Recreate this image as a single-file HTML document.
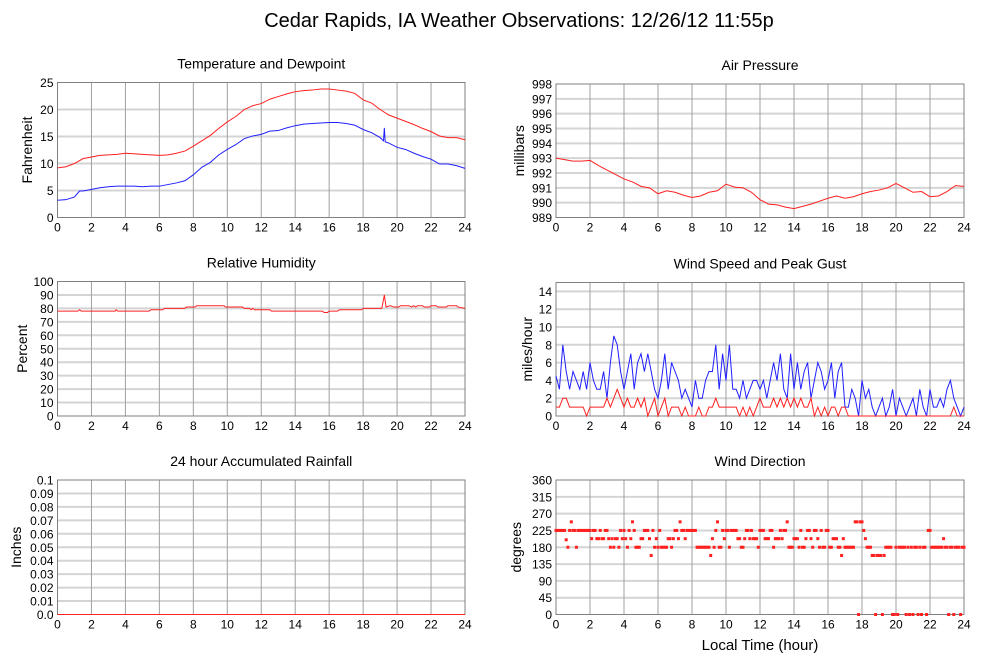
<!DOCTYPE html>
<html><head><meta charset="utf-8"><style>
body{margin:0;background:#fff;}
svg{display:block;font-family:"Liberation Sans",sans-serif;}
</style></head><body>
<svg id="c" width="999" height="659" viewBox="0 0 999 659" xmlns="http://www.w3.org/2000/svg">
<rect width="999" height="659" fill="#fff"/>
<text x="519" y="27" font-size="20" text-anchor="middle">Cedar Rapids, IA Weather Observations: 12/26/12 11:55p</text>
<text x="760" y="650" font-size="15" text-anchor="middle">Local Time (hour)</text>
</svg>
<script>
// ---- data ----
const tempValues=[9.2,9.4,10,10.9,11.2,11.5,11.6,11.7,11.9,11.8,11.7,11.6,11.5,11.6,11.9,12.3,13.2,14.2,15.2,16.5,17.7,18.7,20,20.7,21.1,21.9,22.4,22.9,23.3,23.5,23.6,23.8,23.8,23.6,23.4,23,21.8,21.2,20,19,18.4,17.8,17.2,16.5,15.9,15.1,14.8,14.8,14.4];
const dewHours=[0,0.5,1,1.3,1.5,2,2.5,3,3.5,4,4.5,5,5.5,6,6.5,7,7.5,8,8.5,9,9.5,10,10.5,11,11.5,12,12.5,13,13.5,14,14.5,15,15.5,16,16.5,17,17.5,18,18.5,19,19.2,19.25,19.3,19.5,20,20.5,21,21.5,22,22.5,23,23.5,24];
const dewValues=[3.2,3.3,3.8,4.9,4.9,5.2,5.5,5.7,5.8,5.8,5.8,5.7,5.8,5.8,6.1,6.4,6.8,7.9,9.3,10.2,11.6,12.6,13.5,14.6,15.1,15.4,16,16.1,16.6,17,17.3,17.4,17.5,17.6,17.6,17.4,17.1,16.3,15.7,14.8,14.2,16.6,14.0,13.8,13.0,12.6,11.9,11.3,10.8,9.9,9.9,9.6,9.1];
const pressValues=[993,992.9,992.8,992.8,992.85,992.5,992.2,991.9,991.6,991.4,991.1,991.0,990.6,990.8,990.7,990.5,990.35,990.45,990.7,990.8,991.25,991.05,991.0,990.7,990.2,989.9,989.85,989.7,989.6,989.75,989.9,990.1,990.3,990.45,990.3,990.4,990.6,990.75,990.85,991.0,991.3,991.0,990.7,990.75,990.4,990.45,990.75,991.15,991.1];
const rhHours=[0,1.2,1.3,1.4,3.4,3.45,3.55,5.4,5.5,6.2,6.3,7.5,7.6,8.1,8.2,9.8,9.9,10.9,11,11.3,11.4,11.5,11.6,12.5,12.6,15.6,15.7,15.9,16,16.5,16.6,17.9,18,19.1,19.25,19.35,19.6,19.8,20.1,20.2,20.7,20.85,20.95,21.1,21.2,21.5,21.6,21.9,22,22.3,22.4,22.9,23,23.5,23.6,24];
const rhValues=[78,78,79,78,78,79,78,78,79,79,80,80,81,81,82,82,81,81,80,80,79,80,79,79,78,78,77,77,78,78,79,79,80,80,90,81,82,81,81,82,82,81,82,81,82,82,81,81,82,82,81,81,82,82,81,80];
const gustValues=[4.5,3,8,5,3,5,4,3,5,3,6,4,3,3,5,2,6,9,8,5,3,5,7,3,6,7,5,7,5,3,2,4,7,3,6,5,4,2,3,2,1,4,2,2,4,5,5,8,3,7,4,8,3,3,2,4,2,3,4,4,3,4,2,4,6,4,7,3,2,7,3,6,3,5,6,2,4,6,5,3,4,6,2,5,6,1,1,3,2,0,4,2,3,1,0,1,2,0,1,3,0,2,1,0,1,2,0,3,1,0,3,1,1,2,1,3,4,2,1,0,1];
const speedValues=[1,1,2,2,1,1,1,1,1,0,1,1,1,1,1,2,1,2,3,2,1,2,1,1,2,1,2,0,1,2,0,1,2,0,1,1,1,0,1,0,0,0,1,0,0,1,1,2,1,1,1,1,1,1,0,1,0,1,0,1,2,1,1,1,2,1,2,1,2,1,2,1,2,1,1,2,0,1,0,1,0,1,1,0,1,1,0,0,0,0,0,0,0,0,0,0,0,0,0,0,0,0,0,0,0,0,0,0,0,0,0,0,0,0,0,0,0,1,0,0,0];
const dirValues=[225,225,225,225,225,225,200,180,225,248,225,225,180,225,225,225,225,225,225,225,225,203,225,225,203,203,225,203,203,225,225,203,180,203,180,203,203,180,225,203,225,203,180,225,203,248,225,180,180,180,203,203,225,225,225,203,158,225,180,203,180,225,180,180,180,180,203,203,180,203,225,225,203,248,225,225,203,225,225,225,225,225,225,180,180,180,180,180,180,180,180,158,203,180,225,248,180,180,225,203,225,225,180,225,225,225,225,203,203,180,180,203,225,225,203,225,203,203,203,180,225,225,225,203,203,203,225,225,180,203,203,203,225,203,225,225,248,180,180,180,203,203,203,180,225,180,180,203,225,225,203,180,225,225,203,180,225,180,180,225,225,180,180,203,203,203,180,180,158,203,180,180,180,180,180,180,248,248,0,248,248,225,203,180,180,180,158,158,0,158,158,158,0,158,180,180,180,180,0,0,180,0,180,180,180,180,0,180,0,180,0,180,180,0,180,0,180,180,0,225,225,180,180,180,180,180,180,180,203,180,180,0,180,180,0,180,180,180,0,180,180];
const rainValues=[0,0];
const xTicks=[0,2,4,6,8,10,12,14,16,18,20,22,24];

const svg=document.getElementById('c');
const NS='http://www.w3.org/2000/svg';
function mk(tag,attrs,parent){const e=document.createElementNS(NS,tag);for(const k in attrs)e.setAttribute(k,attrs[k]);(parent||svg).appendChild(e);return e;}

function panel(name,x0,x1,y0,y1,ymin,ymax,yTicks,title,ylabel,ylabX,fmt){
  const g=mk('g',{});
  
  
  const sx=h=>x0+(x1-x0)*h/24;
  const sy=v=>y1-(y1-y0)*(v-ymin)/(ymax-ymin);
  yTicks.forEach(t=>{
    const y=sy(t);
    if(t!==ymin&&t!==ymax){const l=mk('line',{x1:x0,x2:x1,y1:y,y2:y,stroke:'#d4d4d4','stroke-width':2},g);
    
    }
    const tx=mk('text',{x:x0-4,y:y+4.5,'font-size':12,'text-anchor':'end'},g);
    tx.textContent=fmt?fmt(t):t;
    
    
  });
  xTicks.forEach(t=>{
    const x=sx(t);
    if(t!==0&&t!==24){const l=mk('line',{x1:x,x2:x,y1:y0,y2:y1,stroke:'#a0a0a0','stroke-width':1},g);
    
    }
    const tx=mk('text',{x:x,y:y1+14,'font-size':12,'text-anchor':'middle'},g);
    tx.textContent=t;
    
    
  });
  const fr=mk('rect',{x:x0,y:y0,width:x1-x0,height:y1-y0,fill:'none',stroke:'#808080','stroke-width':1},g);
  
  
  const tt=mk('text',{x:(x0+x1)/2,y:y0-14,'font-size':14,'text-anchor':'middle'},g);
  tt.textContent=title;
  
  
  const yl=mk('text',{x:ylabX,y:(y0+y1)/2,'font-size':14,'text-anchor':'middle',transform:`rotate(-90 ${ylabX} ${(y0+y1)/2})`},g);
  yl.textContent=ylabel;
  
  
  return {g,sx,sy};
}
function line(p,hours,vals,color,name){
  const d=vals.map((v,i)=>(i?'L':'M')+p.sx(hours[i]).toFixed(2)+','+p.sy(v).toFixed(2)).join('');
  const e=mk('path',{d,fill:'none',stroke:color,'stroke-width':1},p.g);
  
  
}
const step=(n,s)=>Array.from({length:n},(_,i)=>i*s);
const L0=57.5,L1=465,R0=556,R1=964;
const rows=[[82.5,217.5],[281.5,416],[480,614.5]];

const p1=panel('temperature',L0,L1,rows[0][0],rows[0][1],0,25,[0,5,10,15,20,25],'Temperature and Dewpoint','Fahrenheit',32);
line(p1,step(tempValues.length,0.5),tempValues,'#ff2020','temperature-line');
line(p1,dewHours,dewValues,'#2020ff','dewpoint-line');

const p2=panel('pressure',R0,R1,rows[0][0]+1.5,rows[0][1],989,998,[989,990,991,992,993,994,995,996,997,998],'Air Pressure','millibars',524);
line(p2,step(pressValues.length,0.5),pressValues,'#ff2020','pressure-line');

const p3=panel('humidity',L0,L1,rows[1][0],rows[1][1],0,100,[0,10,20,30,40,50,60,70,80,90,100],'Relative Humidity','Percent',27);
line(p3,rhHours,rhValues,'#ff2020','humidity-line');

const p4=panel('wind-speed',R0,R1,rows[1][0]+1,rows[1][1],0,15,[0,2,4,6,8,10,12,14],'Wind Speed and Peak Gust','miles/hour',532);
line(p4,step(gustValues.length,0.2),gustValues,'#2020ff','gust-line');
line(p4,step(speedValues.length,0.2),speedValues,'#ff2020','speed-line');

const p5=panel('rainfall',L0,L1,rows[2][0],rows[2][1],0,0.1,[0,0.01,0.02,0.03,0.04,0.05,0.06,0.07,0.08,0.09,0.1],'24 hour Accumulated Rainfall','Inches',21,t=>t===0?'0.0':(t===0.1?'0.1':t.toFixed(2)));
line(p5,[0,24],rainValues,'#ff2020','rainfall-line');

const p6=panel('wind-direction',R0,R1,rows[2][0],rows[2][1],0,360,[0,45,90,135,180,225,270,315,360],'Wind Direction','degrees',521);
dirValues.forEach((v,i)=>{
  const r=mk('rect',{x:p6.sx(i*0.1)-1.5,y:p6.sy(v)-1.5,width:3,height:3,fill:'#ff2020'},p6.g);
  
  
});
</script>
</body></html>
